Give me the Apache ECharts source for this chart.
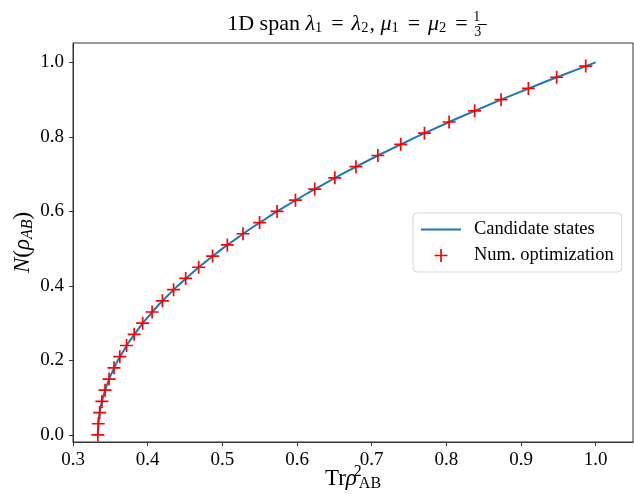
<!DOCTYPE html>
<html>
<head>
<meta charset="utf-8">
<script src="https://cdn.jsdelivr.net/npm/echarts@6/dist/echarts.min.js"></script>
<style>
html,body{margin:0;padding:0;background:#fff;}
#chart{width:634px;height:495px;}
</style>
</head>
<body>
<div id="chart"></div>
<script>
// Candidate states (line)
const candTr = [0.3333, 0.3336, 0.3350, 0.3376, 0.3400, 0.3446, 0.3504, 0.3600, 0.3750, 0.3933, 0.4150, 0.4400, 0.4683, 0.5000, 0.5350, 0.5733, 0.6150, 0.6600, 0.7083, 0.7600, 0.8150, 0.8733, 0.9350, 1.0000];
const candN  = [0.00, 0.02, 0.05, 0.08, 0.10, 0.13, 0.16, 0.20, 0.25, 0.30, 0.35, 0.40, 0.45, 0.50, 0.55, 0.60, 0.65, 0.70, 0.75, 0.80, 0.85, 0.90, 0.95, 1.00];
// Num. optimization (markers)
const numTr = [0.3333, 0.3339, 0.3357, 0.3387, 0.3429, 0.3483, 0.3549, 0.3627, 0.3717, 0.3819, 0.3933, 0.4059, 0.4197, 0.4347, 0.4509, 0.4683, 0.4869, 0.5067, 0.5277, 0.5499, 0.5733, 0.5979, 0.6237, 0.6507, 0.6789, 0.7083, 0.7389, 0.7707, 0.8037, 0.8379, 0.8733, 0.9099, 0.9477, 0.9867];
const numN  = [0.00, 0.03, 0.06, 0.09, 0.12, 0.15, 0.18, 0.21, 0.24, 0.27, 0.30, 0.33, 0.36, 0.39, 0.42, 0.45, 0.48, 0.51, 0.54, 0.57, 0.60, 0.63, 0.66, 0.69, 0.72, 0.75, 0.78, 0.81, 0.84, 0.87, 0.90, 0.93, 0.96, 0.99];
// Tick labels
const xTicks = [0.3, 0.4, 0.5, 0.6, 0.7, 0.8, 0.9, 1.0];
const yTicks = [0.0, 0.2, 0.4, 0.6, 0.8, 1.0];

const SERIF = '"Liberation Serif", "DejaVu Serif", serif';
const plusPath = 'path://M-1.3,-10 L1.3,-10 L1.3,-1.3 L10,-1.3 L10,1.3 L1.3,1.3 L1.3,10 L-1.3,10 L-1.3,1.3 L-10,1.3 L-10,-1.3 L-1.3,-1.3 Z';
const linePath = 'path://M0,0 L40,0 L40,2 L0,2 Z';

const chart = echarts.init(document.getElementById('chart'), null, {renderer: 'canvas'});
const option = {
  animation: false,
  backgroundColor: '#fff',
  title: {
    text: '1D span {i|λ}{s|1}{eq|=}{i|λ}{s|2}, {i|μ}{s|1}{eq|=}{i|μ}{s|2}{eq|=}{n|1}{d|3}{bar| }',
    left: 352, top: 5, textAlign: 'center',
    textStyle: {
      fontFamily: SERIF, fontSize: 22, fontWeight: 'normal', color: '#000',
      rich: {
        i: {fontFamily: SERIF, fontSize: 22, fontStyle: 'italic', color: '#000'},
        s: {fontFamily: SERIF, fontSize: 14.5, color: '#000', padding: [8, 1, 0, 0]},
        eq: {fontFamily: SERIF, fontSize: 22, color: '#000', padding: [0, 8, 0, 8]},
        n: {fontFamily: SERIF, fontSize: 14, color: '#000', width: 0.01, padding: [0, 0, 15, 1]},
        d: {fontFamily: SERIF, fontSize: 14, color: '#000', width: 0.01, padding: [15, 0, 0, 1]},
        bar: {fontSize: 1, width: 9, height: 1, backgroundColor: '#000', padding: [0, 0, 0, 0]}
      }
    }
  },
  grid: {left: 73, right: 1, top: 43, bottom: 53, show: true, borderColor: '#333', borderWidth: 1,
         containLabel: false, outerBoundsMode: 'none'},
  legend: {
    orient: 'vertical', left: 413, top: 213,
    padding: [7, 8, 7, 8], itemGap: 7, itemWidth: 40, itemHeight: 13,
    symbolKeepAspect: true,
    borderColor: '#d5d5d5', borderWidth: 1, borderRadius: 4,
    backgroundColor: 'rgba(255,255,255,0.85)',
    textStyle: {fontFamily: SERIF, fontSize: 18.5, color: '#000', padding: [0, 2, 0, 8]},
    data: [
      {name: 'Candidate states', icon: linePath},
      {name: 'Num. optimization'}
    ]
  },
  xAxis: {
    type: 'value', min: 0.3, max: 1.05,
    name: 'Tr{i|ρ}{sup|2}{sub|AB}',
    nameLocation: 'middle', nameGap: 22, nameMoveOverlap: false,
    nameTextStyle: {
      fontFamily: SERIF, fontSize: 23, color: '#000', verticalAlign: 'top',
      rich: {
        i: {fontFamily: SERIF, fontSize: 23, fontStyle: 'italic', color: '#000'},
        sup: {fontFamily: SERIF, fontSize: 16, color: '#000', width: 0.01, padding: [0, 0, 13, 1]},
        sub: {fontFamily: SERIF, fontSize: 16, color: '#000', padding: [10, 0, 0, 1]}
      }
    },
    splitLine: {show: false},
    axisLine: {show: true, onZero: false, lineStyle: {color: '#333', width: 1}},
    axisTick: {show: true, length: 4, lineStyle: {color: '#333'}, customValues: xTicks},
    axisLabel: {
      fontFamily: SERIF, fontSize: 19, color: '#000', margin: 9,
      customValues: xTicks,
      formatter: v => v.toFixed(1)
    }
  },
  yAxis: {
    type: 'value', min: -0.019, max: 1.052,
    name: '{i|N}({i|ρ}{s|AB})',
    nameLocation: 'middle', nameGap: 37, nameRotate: 90, nameMoveOverlap: false,
    nameTextStyle: {
      fontFamily: SERIF, fontSize: 23, color: '#000',
      rich: {
        i: {fontFamily: SERIF, fontSize: 23, fontStyle: 'italic', color: '#000'},
        s: {fontFamily: SERIF, fontSize: 16, fontStyle: 'italic', color: '#000', padding: [10, 0, 0, 0]}
      }
    },
    splitLine: {show: false},
    axisLine: {show: true, onZero: false, lineStyle: {color: '#333', width: 1}},
    axisTick: {show: true, length: 4, lineStyle: {color: '#333'}, customValues: yTicks},
    axisLabel: {
      fontFamily: SERIF, fontSize: 19, color: '#000', margin: 9,
      customValues: yTicks,
      formatter: v => v.toFixed(1)
    }
  },
  series: [
    {
      name: 'Candidate states', type: 'line',
      data: candTr.map((x, i) => [x, candN[i]]),
      symbol: 'none', smooth: false,
      lineStyle: {color: '#1f77b4', width: 2},
      itemStyle: {color: '#1f77b4'},
      z: 2
    },
    {
      name: 'Num. optimization', type: 'scatter',
      data: numTr.map((x, i) => [x, numN[i]]),
      symbol: plusPath, symbolSize: 13,
      itemStyle: {color: '#ff0000', opacity: 1},
      z: 3
    }
  ]
};
chart.setOption(option);
</script>
</body>
</html>
